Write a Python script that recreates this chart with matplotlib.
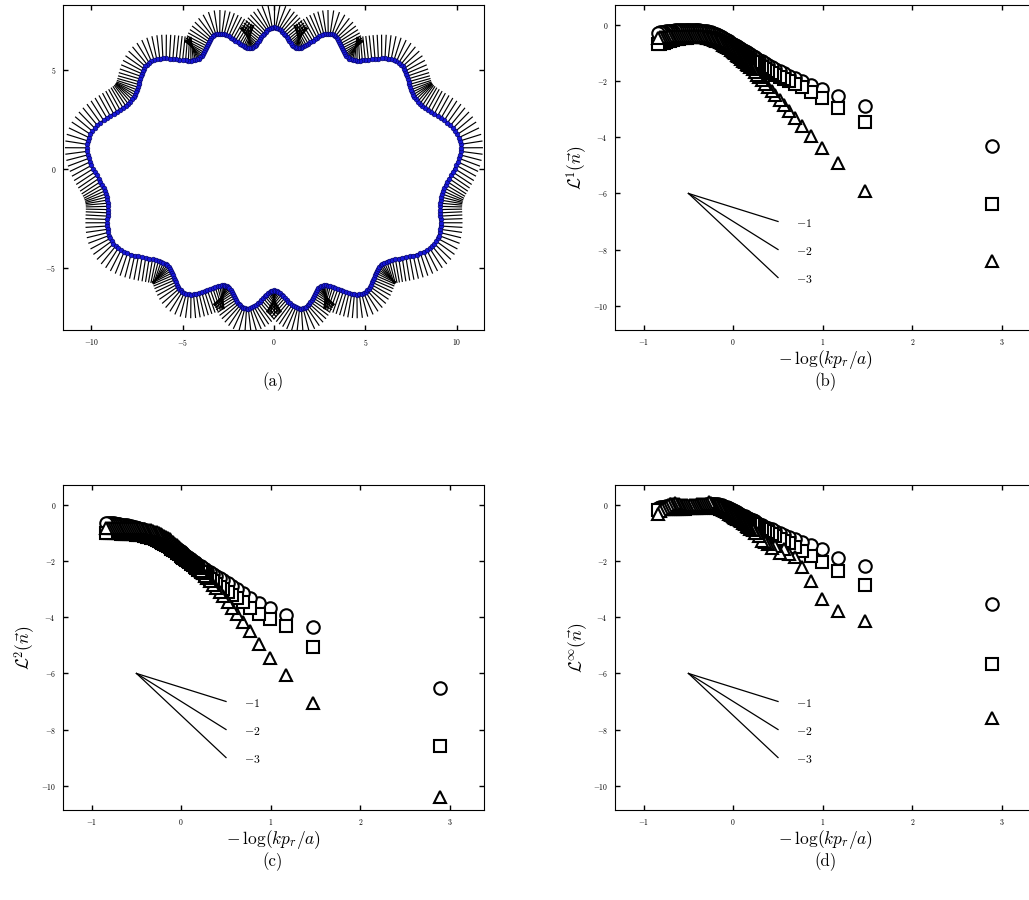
import numpy as np
import matplotlib
matplotlib.use('Agg')
from matplotlib import pyplot as plt
from matplotlib.collections import LineCollection

plt.rcParams['font.family'] = 'serif'
plt.rcParams['font.serif'] = ['cmr10']
plt.rcParams['mathtext.fontset'] = 'cm'
plt.rcParams['axes.formatter.use_mathtext'] = True

# boundary shape of panel (a)
SEMI_AXES = (9.9, 6.65)
N_LOBES = 13
LOBE_AMP = 0.5
ANGLE_STRETCH = 1.15
N_NORMALS = 420
NORMAL_LEN = 1.2

# -log(k p_r / a) values, shared by all series
X = [2.89, 1.47, 1.17, 0.99, 0.87, 0.77, 0.69, 0.62, 0.57, 0.52, 0.47, 0.43,
     0.39, 0.36, 0.32, 0.29, 0.27, 0.24, 0.22, 0.19, 0.17,
     0.15, 0.13, 0.11, 0.09, 0.07, 0.055, 0.04, 0.023, 0.008, -0.007,
     -0.03, -0.05, -0.07, -0.09, -0.11, -0.13, -0.15, -0.17, -0.19, -0.21,
     -0.23, -0.25, -0.27, -0.29, -0.315, -0.34, -0.36, -0.38, -0.40, -0.42,
     -0.44, -0.46, -0.48, -0.50, -0.52, -0.54, -0.56, -0.58, -0.605, -0.63,
     -0.65, -0.67, -0.69, -0.71, -0.73, -0.75, -0.77, -0.79, -0.815, -0.84]

L1_CIRC = [-4.31, -2.88, -2.52, -2.29, -2.13, -2.0, -1.9, -1.8, -1.72, -1.64, -1.56, -1.49,
           -1.42, -1.36, -1.29, -1.23, -1.19, -1.13, -1.09, -1.03, -0.99,
           -0.95, -0.92, -0.88, -0.85, -0.81, -0.78, -0.75, -0.72, -0.69, -0.66,
           -0.62, -0.58, -0.54, -0.5, -0.46, -0.43, -0.39, -0.36, -0.33, -0.3,
           -0.27, -0.25, -0.23, -0.22, -0.21, -0.2, -0.19, -0.18, -0.17, -0.17,
           -0.16, -0.16, -0.16, -0.16, -0.16, -0.16, -0.16, -0.17, -0.17, -0.18,
           -0.18, -0.19, -0.19, -0.2, -0.21, -0.22, -0.23, -0.24, -0.26, -0.28]
L1_SQ = [-6.36, -3.47, -2.94, -2.58, -2.37, -2.2, -2.08, -1.98, -1.92, -1.85, -1.77, -1.7,
         -1.63, -1.57, -1.5, -1.44, -1.4, -1.34, -1.3, -1.24, -1.2,
         -1.16, -1.12, -1.08, -1.04, -1.0, -0.97, -0.94, -0.9, -0.87, -0.84,
         -0.8, -0.76, -0.72, -0.69, -0.65, -0.62, -0.59, -0.56, -0.53, -0.51,
         -0.49, -0.47, -0.45, -0.44, -0.43, -0.42, -0.41, -0.41, -0.41, -0.41,
         -0.41, -0.42, -0.42, -0.43, -0.44, -0.45, -0.46, -0.47, -0.48, -0.5,
         -0.51, -0.53, -0.54, -0.56, -0.58, -0.6, -0.62, -0.64, -0.66, -0.68]
L1_TRI = [-8.42, -5.92, -4.9, -4.37, -3.95, -3.6, -3.3, -3.05, -2.85, -2.67, -2.5, -2.35,
          -2.2, -2.08, -1.95, -1.84, -1.76, -1.66, -1.58, -1.5, -1.43,
          -1.38, -1.32, -1.26, -1.2, -1.14, -1.1, -1.05, -1.0, -0.96, -0.92,
          -0.87, -0.82, -0.77, -0.73, -0.69, -0.65, -0.61, -0.58, -0.55, -0.53,
          -0.5, -0.48, -0.46, -0.44, -0.42, -0.41, -0.4, -0.39, -0.38, -0.38,
          -0.37, -0.37, -0.37, -0.37, -0.37, -0.37, -0.37, -0.38, -0.38, -0.38,
          -0.38, -0.39, -0.39, -0.4, -0.4, -0.41, -0.41, -0.42, -0.43, -0.44]

L2_CIRC = [-6.52, -4.36, -3.9, -3.68, -3.5, -3.3, -3.12, -2.98, -2.88, -2.78, -2.68, -2.6,
           -2.52, -2.46, -2.39, -2.33, -2.29, -2.23, -2.18, -2.12, -2.07,
           -2.03, -1.98, -1.93, -1.88, -1.84, -1.8, -1.76, -1.72, -1.68, -1.65,
           -1.6, -1.55, -1.5, -1.46, -1.41, -1.37, -1.32, -1.28, -1.24, -1.2,
           -1.16, -1.12, -1.08, -1.05, -1.01, -0.98, -0.95, -0.93, -0.9, -0.88,
           -0.86, -0.84, -0.82, -0.8, -0.78, -0.77, -0.75, -0.74, -0.72, -0.71,
           -0.7, -0.69, -0.68, -0.67, -0.66, -0.65, -0.64, -0.63, -0.62, -0.62]
L2_SQ = [-8.57, -5.06, -4.32, -4.05, -3.88, -3.65, -3.45, -3.3, -3.2, -3.1, -3.0, -2.9,
         -2.8, -2.72, -2.63, -2.56, -2.5, -2.42, -2.37, -2.3, -2.24,
         -2.19, -2.14, -2.09, -2.04, -1.99, -1.95, -1.91, -1.87, -1.84, -1.8,
         -1.75, -1.7, -1.65, -1.6, -1.55, -1.5, -1.46, -1.42, -1.38, -1.34,
         -1.3, -1.27, -1.24, -1.21, -1.18, -1.16, -1.14, -1.12, -1.1, -1.09,
         -1.08, -1.07, -1.06, -1.05, -1.04, -1.04, -1.03, -1.03, -1.02, -1.02,
         -1.01, -1.01, -1.0, -1.0, -1.0, -1.0, -1.0, -1.0, -1.0, -1.0]
L2_TRI = [-10.39, -7.05, -6.05, -5.45, -4.95, -4.47, -4.15, -3.88, -3.67, -3.45, -3.25, -3.1,
          -2.95, -2.85, -2.72, -2.6, -2.52, -2.42, -2.34, -2.24, -2.16,
          -2.09, -2.02, -1.95, -1.88, -1.81, -1.76, -1.71, -1.65, -1.6, -1.55,
          -1.49, -1.43, -1.37, -1.32, -1.27, -1.22, -1.17, -1.13, -1.09, -1.06,
          -1.03, -1.0, -0.97, -0.95, -0.92, -0.9, -0.88, -0.87, -0.86, -0.85,
          -0.84, -0.83, -0.82, -0.82, -0.81, -0.81, -0.81, -0.8, -0.8, -0.8,
          -0.8, -0.8, -0.8, -0.8, -0.8, -0.8, -0.8, -0.8, -0.8, -0.8]

LINF_CIRC = [-3.54, -2.17, -1.87, -1.57, -1.43, -1.3, -1.22, -1.12, -1.05, -0.98, -0.92, -0.86,
             -0.8, -0.76, -0.7, -0.66, -0.62, -0.58, -0.54, -0.5, -0.47,
             -0.44, -0.4, -0.37, -0.34, -0.31, -0.28, -0.25, -0.22, -0.19, -0.17,
             -0.13, -0.1, -0.07, -0.05, -0.02, 0.0, 0.02, 0.03, 0.04, 0.05,
             0.05, 0.05, 0.04, 0.03, 0.01, 0.0, -0.01, -0.02, -0.03, -0.03,
             -0.04, -0.04, -0.05, -0.05, -0.05, -0.05, -0.05, -0.05, -0.05, -0.04,
             -0.04, -0.03, -0.03, -0.03, -0.03, -0.04, -0.05, -0.06, -0.08, -0.1]
LINF_SQ = [-5.68, -2.85, -2.35, -2.04, -1.8, -1.62, -1.48, -1.36, -1.27, -1.19, -1.1, -1.03,
           -0.97, -0.91, -0.85, -0.8, -0.76, -0.71, -0.67, -0.62, -0.59,
           -0.55, -0.52, -0.48, -0.45, -0.42, -0.39, -0.37, -0.34, -0.31, -0.29,
           -0.26, -0.23, -0.2, -0.18, -0.16, -0.14, -0.12, -0.11, -0.1, -0.09,
           -0.08, -0.08, -0.08, -0.08, -0.08, -0.09, -0.09, -0.1, -0.1, -0.1,
           -0.1, -0.11, -0.11, -0.11, -0.11, -0.12, -0.12, -0.12, -0.12, -0.12,
           -0.12, -0.13, -0.13, -0.13, -0.13, -0.14, -0.14, -0.15, -0.16, -0.17]
LINF_TRI = [-7.59, -4.13, -3.77, -3.36, -2.72, -2.2, -1.85, -1.75, -1.55, -1.7, -1.45, -1.52,
            -1.39, -1.3, -1.27, -1.1, -1.0, -0.98, -0.9, -0.85, -0.78,
            -0.73, -0.68, -0.63, -0.58, -0.54, -0.5, -0.48, -0.45, -0.41, -0.38,
            -0.34, -0.3, -0.25, -0.2, -0.16, -0.12, -0.08, -0.05, -0.01, 0.02,
            0.05, 0.08, 0.1, 0.06, 0.04, 0.03, 0.04, 0.05, 0.04, 0.02,
            0.01, 0.0, -0.01, -0.02, -0.01, 0.0, 0.01, 0.02, 0.04, 0.05,
            0.07, 0.06, 0.04, 0.03, 0.0, -0.05, -0.1, -0.15, -0.22, -0.3]

SLOPES = [-1, -2, -3]
SLOPE_ORIGIN = (-0.5, -6.0)


def boundary(t):
    a, b = SEMI_AXES
    phi = np.arctan2(ANGLE_STRETCH * np.sin(t), np.cos(t))
    re = a * b / np.sqrt((b * np.cos(phi)) ** 2 + (a * np.sin(phi)) ** 2)
    r = re + LOBE_AMP * np.sin(N_LOBES * t)
    return r * np.cos(phi), r * np.sin(phi)


def style_axes(ax):
    ax.tick_params(direction='in', top=True, right=True, length=3.5, width=1,
                   labelsize=5.5, pad=5)
    for s in ax.spines.values():
        s.set_linewidth(0.8)


def draw_normals(ax):
    t = np.linspace(0, 2 * np.pi, N_NORMALS, endpoint=False)
    x, y = boundary(t)
    h = 1e-4
    xp, yp = boundary(t + h)
    xm, ym = boundary(t - h)
    dx, dy = xp - xm, yp - ym
    norm = np.hypot(dx, dy)
    nx, ny = dy / norm, -dx / norm
    segs = np.stack([np.column_stack([x, y]),
                     np.column_stack([x + NORMAL_LEN * nx, y + NORMAL_LEN * ny])], axis=1)
    ax.add_collection(LineCollection(segs, colors='black', linewidths=0.85))
    ax.plot(np.append(x, x[0]), np.append(y, y[0]), color='black', lw=1.5)
    ax.plot(x, y, 'o', ms=3.4, mfc='#1818d8', mec='#00005a', mew=0.4)
    ax.set_xlim(-11.55, 11.5)
    ax.set_ylim(-8.15, 8.28)
    ax.set_xticks([-10, -5, 0, 5, 10])
    ax.set_yticks([-5, 0, 5])
    style_axes(ax)


def draw_errors(ax, circ, sq, tri, ylabel):
    mk = dict(ls='none', mfc='white', mec='black', mew=1.5, ms=9)
    ax.plot(X, circ, marker='o', **mk)
    ax.plot(X, sq, marker='s', **mk)
    ax.plot(X, tri, marker='^', **mk)
    x0, y0 = SLOPE_ORIGIN
    for s in SLOPES:
        ax.plot([x0, x0 + 1], [y0, y0 + s], color='black', lw=0.9)
        ax.text(x0 + 1.2, y0 + s - 0.05, r'$%d$' % s, fontsize=8.5, va='center', ha='left')
    ax.set_xlim(-1.32, 3.38)
    ax.set_ylim(-10.87, 0.72)
    ax.set_xticks([-1, 0, 1, 2, 3])
    ax.set_yticks([0, -2, -4, -6, -8, -10])
    ax.set_xlabel(r'$-\:\log(kp_r/a)$', fontsize=12.5, labelpad=1)
    ax.set_ylabel(ylabel, fontsize=12.5, labelpad=3)
    style_axes(ax)


fig = plt.figure(figsize=(10.29, 9.0), dpi=100)
w, h = 421 / 1029, 325 / 900
ax_a = fig.add_axes([63 / 1029, 570 / 900, w, h])
ax_b = fig.add_axes([615 / 1029, 570 / 900, w, h])
ax_c = fig.add_axes([63 / 1029, 90 / 900, w, h])
ax_d = fig.add_axes([615 / 1029, 90 / 900, w, h])

draw_normals(ax_a)
draw_errors(ax_b, L1_CIRC, L1_SQ, L1_TRI, r'$\mathcal{L}^1(\vec{n})$')
draw_errors(ax_c, L2_CIRC, L2_SQ, L2_TRI, r'$\mathcal{L}^2(\vec{n})$')
draw_errors(ax_d, LINF_CIRC, LINF_SQ, LINF_TRI, r'$\mathcal{L}^\infty(\vec{n})$')

for lab, xc, yc in [('(a)', 273, 382), ('(b)', 825, 382), ('(c)', 273, 862), ('(d)', 825, 862)]:
    fig.text(xc / 1029, 1 - yc / 900, lab, fontsize=12, ha='center', va='center')

fig.savefig('out.png', dpi=100)
